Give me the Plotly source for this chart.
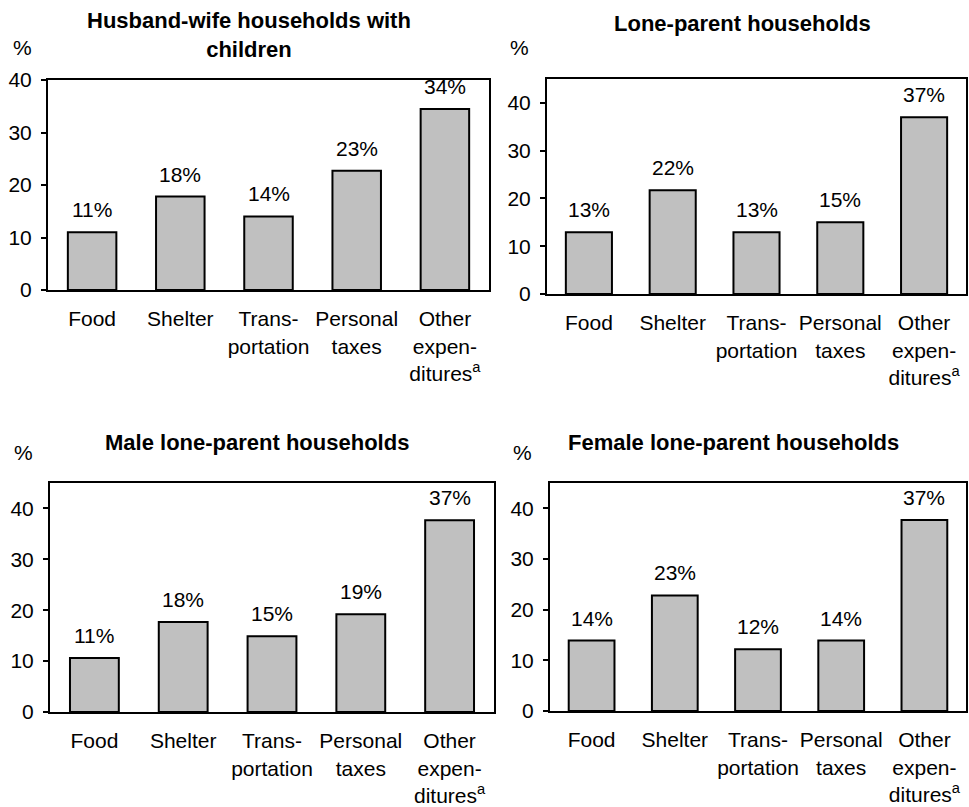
import plotly.graph_objects as go

W, H = 969, 807

categories = ["Food", "Shelter", "Trans-<br>portation", "Personal<br>taxes",
              "Other<br>expen-<br>ditures<sup>a</sup>"]

titles = ["Husband-wife households with<br>children", "Lone-parent households",
          "Male lone-parent households", "Female lone-parent households"]

husband_wife = [11.0, 17.8, 14.0, 22.7, 34.5]
husband_wife_labels = ["11%", "18%", "14%", "23%", "34%"]
lone_parent = [12.9, 21.7, 12.9, 15.0, 37.0]
lone_parent_labels = ["13%", "22%", "13%", "15%", "37%"]
male_lone = [10.6, 17.7, 14.9, 19.2, 37.7]
male_lone_labels = ["11%", "18%", "15%", "19%", "37%"]
female_lone = [13.9, 22.8, 12.2, 13.9, 37.7]
female_lone_labels = ["14%", "23%", "12%", "14%", "37%"]
y_tops = [40, 45, 45, 45]
y_ticks = [0, 10, 20, 30, 40]

series = [husband_wife, lone_parent, male_lone, female_lone]
labels = [husband_wife_labels, lone_parent_labels, male_lone_labels, female_lone_labels]

# pixel boxes (left, right, top, bottom)
boxes = [(48, 489, 80, 290), (547, 966, 79, 294), (50, 494, 483, 712), (550, 966, 483, 711)]
title_pos = [(249, 35), (742, 23), (257, 442), (733, 442)]
pct_pos = [(22, 48), (519, 48), (23, 452), (522, 452)]

FONT = "Arial, Liberation Sans, sans-serif"

fig = go.Figure()
annotations = []
for i in range(4):
    ax = "" if i == 0 else str(i + 1)
    fig.add_trace(go.Bar(
        x=categories, y=series[i], xaxis="x" + ax, yaxis="y" + ax,
        marker=dict(color="#C0C0C0", line=dict(color="black", width=2)),
        showlegend=False, hoverinfo="skip"))
    l, r, t, b = boxes[i]
    fig.update_layout(**{
        "xaxis" + ax: dict(domain=[l / W, r / W], anchor="y" + ax, showline=True, mirror=True,
                           linecolor="black", linewidth=2, ticks="", showgrid=False,
                           tickfont=dict(size=21, color="black", family=FONT), tickangle=0,
                           ticklabelstandoff=9, automargin=False, fixedrange=True),
        "yaxis" + ax: dict(domain=[1 - b / H, 1 - t / H], anchor="x" + ax, range=[0, y_tops[i]],
                           tickvals=y_ticks, showline=True, mirror=True, linecolor="black",
                           linewidth=2, ticks="outside", ticklen=5, tickwidth=1.5,
                           tickcolor="black", showgrid=False, zeroline=False,
                           tickfont=dict(size=21, color="black", family=FONT),
                           ticklabelstandoff=5, automargin=False, fixedrange=True),
    })
    for c, v, lab in zip(categories, series[i], labels[i]):
        annotations.append(dict(x=c, y=v, xref="x" + ax, yref="y" + ax, text=lab,
                                showarrow=False, yanchor="bottom", yshift=9,
                                font=dict(size=21, color="black", family=FONT)))
    tx, ty = title_pos[i]
    annotations.append(dict(x=tx / W, y=1 - ty / H, xref="paper", yref="paper",
                            text="<b>" + titles[i] + "</b>", showarrow=False,
                            xanchor="center", yanchor="middle",
                            font=dict(size=22, color="black", family=FONT)))
    px, py = pct_pos[i]
    annotations.append(dict(x=px / W, y=1 - py / H, xref="paper", yref="paper",
                            text="%", showarrow=False, xanchor="center", yanchor="middle",
                            font=dict(size=21, color="black", family=FONT)))

fig.update_layout(width=W, height=H, margin=dict(l=0, r=0, t=0, b=0, pad=0, autoexpand=False),
                  paper_bgcolor="white", plot_bgcolor="white", bargap=0.45,
                  annotations=annotations, font=dict(family=FONT, color="black"))

fig.write_html("out.html", config={"displayModeBar": False},
               post_script="document.body.style.margin='0';document.body.style.overflow='hidden';")
